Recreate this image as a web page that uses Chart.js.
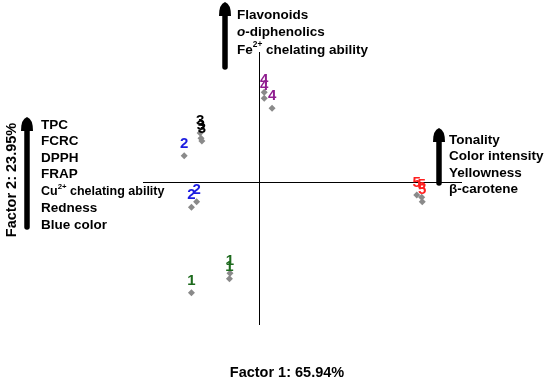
<!DOCTYPE html>
<html>
<head>
<meta charset="utf-8">
<script src="https://cdn.jsdelivr.net/npm/chart.js@4"></script>
<style>
  html, body { margin: 0; padding: 0; background: #fff; }
  #wrap { width: 550px; height: 386px; }
</style>
</head>
<body>
<div id="wrap"><canvas id="pca"></canvas></div>
<script>
// sample groups and their factor scores (Factor 1, Factor 2)
const groups = ['1', '2', '3', '4', '5'];
const groupColors = ['#1d6a1d', '#1c1ce0', '#000000', '#8f1d8f', '#ff2020'];
const factor1 = [
  [-2.33, -1.02, -1.00],
  [-2.58, -2.33, -2.15],
  [-2.03, -2.00, -1.97],
  [0.18, 0.18, 0.45],
  [5.44, 5.61, 5.63]
];
const factor2 = [
  [-3.41, -2.98, -2.81],
  [0.81, -0.78, -0.61],
  [1.51, 1.35, 1.26],
  [2.76, 2.58, 2.27],
  [-0.40, -0.47, -0.61]
];
const xTitle = 'Factor 1: 65.94%';
const yTitle = 'Factor 2: 23.95%';

const FONT = 'Arial, "Liberation Sans", sans-serif';

// zero lines through the origin
const zeroAxes = {
  id: 'zeroAxes',
  beforeDatasetsDraw(chart) {
    const { ctx, chartArea: { left, right, top, bottom }, scales: { x, y } } = chart;
    const x0 = Math.round(x.getPixelForValue(0)) + 0.5;
    const y0 = Math.round(y.getPixelForValue(0)) + 0.5;
    ctx.save();
    ctx.strokeStyle = '#000';
    ctx.lineWidth = 1;
    ctx.beginPath();
    ctx.moveTo(left, y0); ctx.lineTo(right, y0);
    ctx.moveTo(x0, top); ctx.lineTo(x0, bottom);
    ctx.stroke();
    ctx.restore();
  }
};

// group number above every point
const pointLabels = {
  id: 'pointLabels',
  afterDatasetsDraw(chart) {
    const { ctx } = chart;
    ctx.save();
    ctx.font = 'bold 15px ' + FONT;
    ctx.textAlign = 'center';
    ctx.textBaseline = 'middle';
    chart.data.datasets.forEach((ds, i) => {
      ctx.fillStyle = groupColors[i];
      chart.getDatasetMeta(i).data.forEach(pt => {
        ctx.fillText(ds.label, pt.x, pt.y - 12);
      });
    });
    ctx.restore();
  }
};

function arrow(ctx, x, top, bottom) {
  ctx.beginPath();
  ctx.lineWidth = 5.5;
  ctx.lineCap = 'round';
  ctx.moveTo(x, bottom);
  ctx.lineTo(x, top + 8);
  ctx.stroke();
  ctx.beginPath();
  ctx.moveTo(x - 6, top + 14);
  ctx.quadraticCurveTo(x - 6, top + 2, x, top);
  ctx.quadraticCurveTo(x + 6, top + 2, x + 6, top + 14);
  ctx.closePath();
  ctx.fill();
}

// text line with optional italic prefix and superscript
function rich(ctx, parts, x, y) {
  parts.forEach(p => {
    const size = p.sup ? p.size * 0.62 : p.size;
    ctx.font = (p.italic ? 'italic ' : '') + 'bold ' + size + 'px ' + FONT;
    ctx.fillText(p.t, x, p.sup ? y - p.size * 0.38 : y);
    x += ctx.measureText(p.t).width;
  });
}

const loadings = {
  id: 'loadings',
  afterDraw(chart) {
    const { ctx } = chart;
    ctx.save();
    ctx.fillStyle = '#000';
    ctx.strokeStyle = '#000';
    arrow(ctx, 225, 2, 67);
    arrow(ctx, 27, 117, 227);
    arrow(ctx, 439, 128, 183);

    ctx.textAlign = 'left';
    ctx.textBaseline = 'middle';
    const s = 13.5;
    rich(ctx, [{ t: 'Flavonoids', size: s }], 237, 15);
    rich(ctx, [{ t: 'o', size: s, italic: true }, { t: '-diphenolics', size: s }], 237, 32.5);
    rich(ctx, [{ t: 'Fe', size: s }, { t: '2+', size: s, sup: true }, { t: ' chelating ability', size: s }], 237, 50);

    rich(ctx, [{ t: 'TPC', size: s }], 41, 125);
    rich(ctx, [{ t: 'FCRC', size: s }], 41, 141.5);
    rich(ctx, [{ t: 'DPPH', size: s }], 41, 158);
    rich(ctx, [{ t: 'FRAP', size: s }], 41, 174.5);
    rich(ctx, [{ t: 'Cu', size: 12.5 }, { t: '2+', size: 12.5, sup: true }, { t: ' chelating ability', size: 12.5 }], 41, 192);
    rich(ctx, [{ t: 'Redness', size: s }], 41, 208.5);
    rich(ctx, [{ t: 'Blue color', size: s }], 41, 225);

    rich(ctx, [{ t: 'Tonality', size: s }], 449, 140.5);
    rich(ctx, [{ t: 'Color intensity', size: s }], 449, 156.5);
    rich(ctx, [{ t: 'Yellowness', size: s }], 449, 173);
    rich(ctx, [{ t: 'β-carotene', size: s }], 449, 189.5);

    ctx.textAlign = 'center';
    ctx.font = 'bold 14.5px ' + FONT;
    ctx.fillText(xTitle, 287, 373);
    ctx.translate(12, 180);
    ctx.rotate(-Math.PI / 2);
    ctx.fillText(yTitle, 0, 0);
    ctx.restore();
  }
};

new Chart(document.getElementById('pca'), {
  type: 'scatter',
  plugins: [zeroAxes, pointLabels, loadings],
  data: {
    datasets: groups.map((g, i) => ({
      label: g,
      data: factor1[i].map((v, j) => ({ x: v, y: factor2[i][j] })),
      pointStyle: 'rectRot',
      pointRadius: 3.5,
      backgroundColor: '#8a8a8a',
      borderColor: '#8a8a8a',
      borderWidth: 0
    }))
  },
  options: {
    responsive: true,
    maintainAspectRatio: false,
    animation: false,
    layout: { padding: { left: 143, right: 88, top: 52, bottom: 61 } },
    plugins: {
      legend: { display: false },
      tooltip: { enabled: false }
    },
    scales: {
      x: { display: false, min: -4, max: 7 },
      y: { display: false, min: -4.4, max: 4 }
    }
  }
});
</script>
</body>
</html>
